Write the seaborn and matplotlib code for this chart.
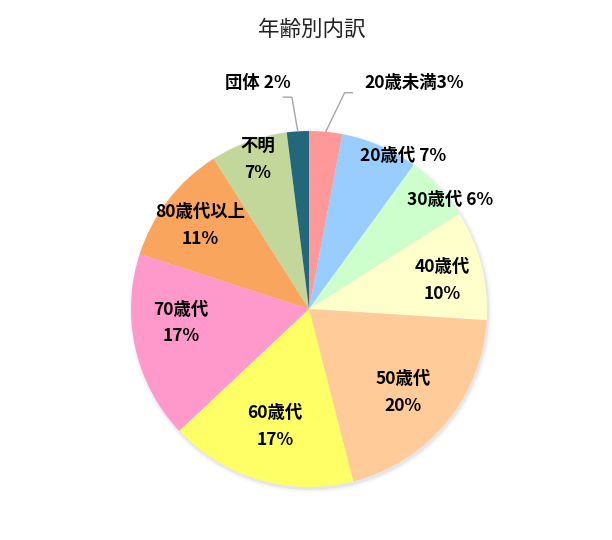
import matplotlib
matplotlib.use("Agg")
import matplotlib.pyplot as plt
import seaborn as sns
from matplotlib.patches import Circle

# 年齢別内訳のデータ
categories = ["20歳未満", "20歳代", "30歳代", "40歳代", "50歳代",
              "60歳代", "70歳代", "80歳代以上", "不明", "団体"]
shares = [3, 7, 6, 10, 20, 17, 17, 11, 7, 2]
colors = ["#FF9999", "#99CCFF", "#CCFFCC", "#FFFFCC", "#FFCC99",
          "#FFFF66", "#FF99CC", "#F9A55E", "#C4D79B", "#23687A"]

# ラベル位置（半径=1の単位）
label_pos = [(0.59, 1.27), (0.53, 0.86), (0.79, 0.61), (0.75, 0.16),
             (0.53, -0.47), (-0.19, -0.66), (-0.72, -0.08), (-0.61, 0.47),
             (-0.29, 0.84), (-0.29, 1.27)]
one_line = {"20歳未満": "{}{}%", "20歳代": "{} {}%", "30歳代": "{} {}%",
            "団体": "{} {}%"}

sns.set_theme(style="white")
plt.rcParams["font.family"] = ["Noto Sans CJK JP", "DejaVu Sans"]

fig = plt.figure(figsize=(6.12, 5.4), dpi=100)
ax = fig.add_axes([0, 0, 1, 1])

# うすい影
for r, a in [(1.022, 0.018), (1.012, 0.03), (1.004, 0.05)]:
    ax.add_patch(Circle((0.008, -0.012), r, color="k", alpha=a, lw=0, zorder=0))

wedges, _ = ax.pie(shares, colors=colors, startangle=90, counterclock=False,
                   radius=1.0, wedgeprops=dict(linewidth=0))
for w in wedges:
    w.set_zorder(2)

for cat, v, (x, y) in zip(categories, shares, label_pos):
    fmt = one_line.get(cat, "{}\n{}%")
    ax.text(x, y, fmt.format(cat, v), ha="center", va="center",
            fontsize=12.5, fontweight="bold", color="black",
            linespacing=1.6, zorder=5)

# 引き出し線
ax.plot([0.094, 0.20, 0.245], [0.996, 1.215, 1.215], color="#A6A6A6", lw=1, zorder=4)
ax.plot([-0.063, -0.096, -0.146], [0.998, 1.19, 1.19], color="#A6A6A6", lw=1, zorder=4)

ax.set_xlim(-309 / 178, (612 - 309) / 178)
ax.set_ylim(-231 / 178, 309 / 178)
ax.set_aspect("auto")
ax.axis("off")

fig.text(312 / 612, 1 - 30 / 540, "年齢別内訳", ha="center", va="center",
         fontsize=15.5, color="#222222")

fig.savefig("out.png", dpi=100)
